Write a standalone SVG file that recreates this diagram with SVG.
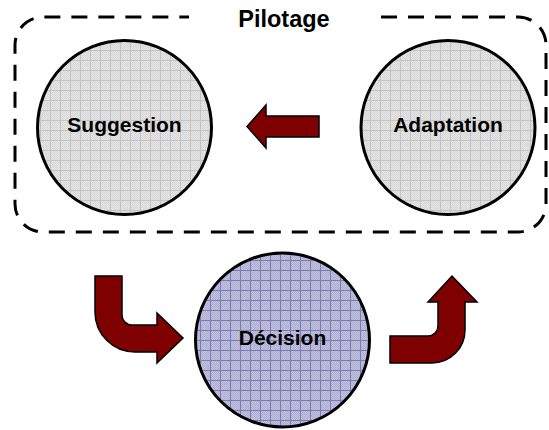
<svg xmlns="http://www.w3.org/2000/svg" width="549" height="430" viewBox="0 0 549 430">
  <style>
    .node { stroke: #000; stroke-width: 3; }
    .label { font-family: "Liberation Sans", Arial, sans-serif; font-weight: bold; font-size: 21px; fill: #000; text-anchor: middle; }
    .title { font-size: 23.5px; }
    .frame { fill: none; stroke: #000; stroke-width: 3; stroke-dasharray: 16 11; }
    .arrow { fill: #7f0000; stroke: #000; stroke-width: 1.5; stroke-linejoin: miter; }
  </style>
  <defs>
    <!-- fine dither texture under the grid -->
    <pattern id="ditherGray" width="2" height="2" patternUnits="userSpaceOnUse">
      <rect width="2" height="2" fill="#e4e4e4"/>
      <rect width="1" height="1" fill="#d8d8d8"/>
      <rect x="1" y="1" width="1" height="1" fill="#d8d8d8"/>
    </pattern>
    <pattern id="gridGray" width="10" height="10" patternUnits="userSpaceOnUse">
      <rect width="10" height="10" fill="url(#ditherGray)"/>
      <path d="M0 0.5H10M0.5 0V10" stroke="#c4c4c4" stroke-width="1"/>
    </pattern>
    <pattern id="ditherBlue" width="2" height="2" patternUnits="userSpaceOnUse">
      <rect width="2" height="2" fill="#c0c0dc"/>
      <rect width="1" height="1" fill="#b0b0d2"/>
      <rect x="1" y="1" width="1" height="1" fill="#b0b0d2"/>
    </pattern>
    <pattern id="gridBlue" width="10" height="10" patternUnits="userSpaceOnUse">
      <rect width="10" height="10" fill="url(#ditherBlue)"/>
      <path d="M0 0.5H10M0.5 0V10" stroke="#7c7cb4" stroke-width="1"/>
    </pattern>
  </defs>

  <!-- dashed "Pilotage" frame, open at the top for its title -->
  <g id="pilotage">
    <path class="frame" d="M381,17 H518 A28,28 0 0 1 546,45 V204 A28,28 0 0 1 518,232 H43 A28,28 0 0 1 15,204 V45 A28,28 0 0 1 43,17 H189"/>
    <text x="284" y="27" class="label title">Pilotage</text>
  </g>

  <g id="suggestion">
    <circle class="node" cx="124.5" cy="127.5" r="87" fill="url(#gridGray)"/>
    <text class="label" x="124.5" y="132">Suggestion</text>
  </g>

  <g id="adaptation">
    <circle class="node" cx="448" cy="127.5" r="87" fill="url(#gridGray)"/>
    <text class="label" x="448" y="132">Adaptation</text>
  </g>

  <g id="decision">
    <circle class="node" cx="282.5" cy="340" r="87" fill="url(#gridBlue)"/>
    <text class="label" x="282.5" y="345">Décision</text>
  </g>

  <g id="connectors">
    <!-- Adaptation to Suggestion -->
    <path class="arrow" d="M319,116 V137 H266 V148 L247,126.5 L266,105 V116 Z"/>
    <!-- Suggestion down to Décision -->
    <path class="arrow" d="M95,276 H122 V315 A10,10 0 0 0 132,325 H157 V313 L183,338 L157,363 V352 H135 A40,40 0 0 1 95,312 Z"/>
    <!-- Décision up to Adaptation -->
    <path class="arrow" d="M390,336 H428 A10,10 0 0 0 438,326 V302 H428 L452,276 L477,302 H465 V330 A33,33 0 0 1 432,363 H390 Z"/>
  </g>
</svg>
